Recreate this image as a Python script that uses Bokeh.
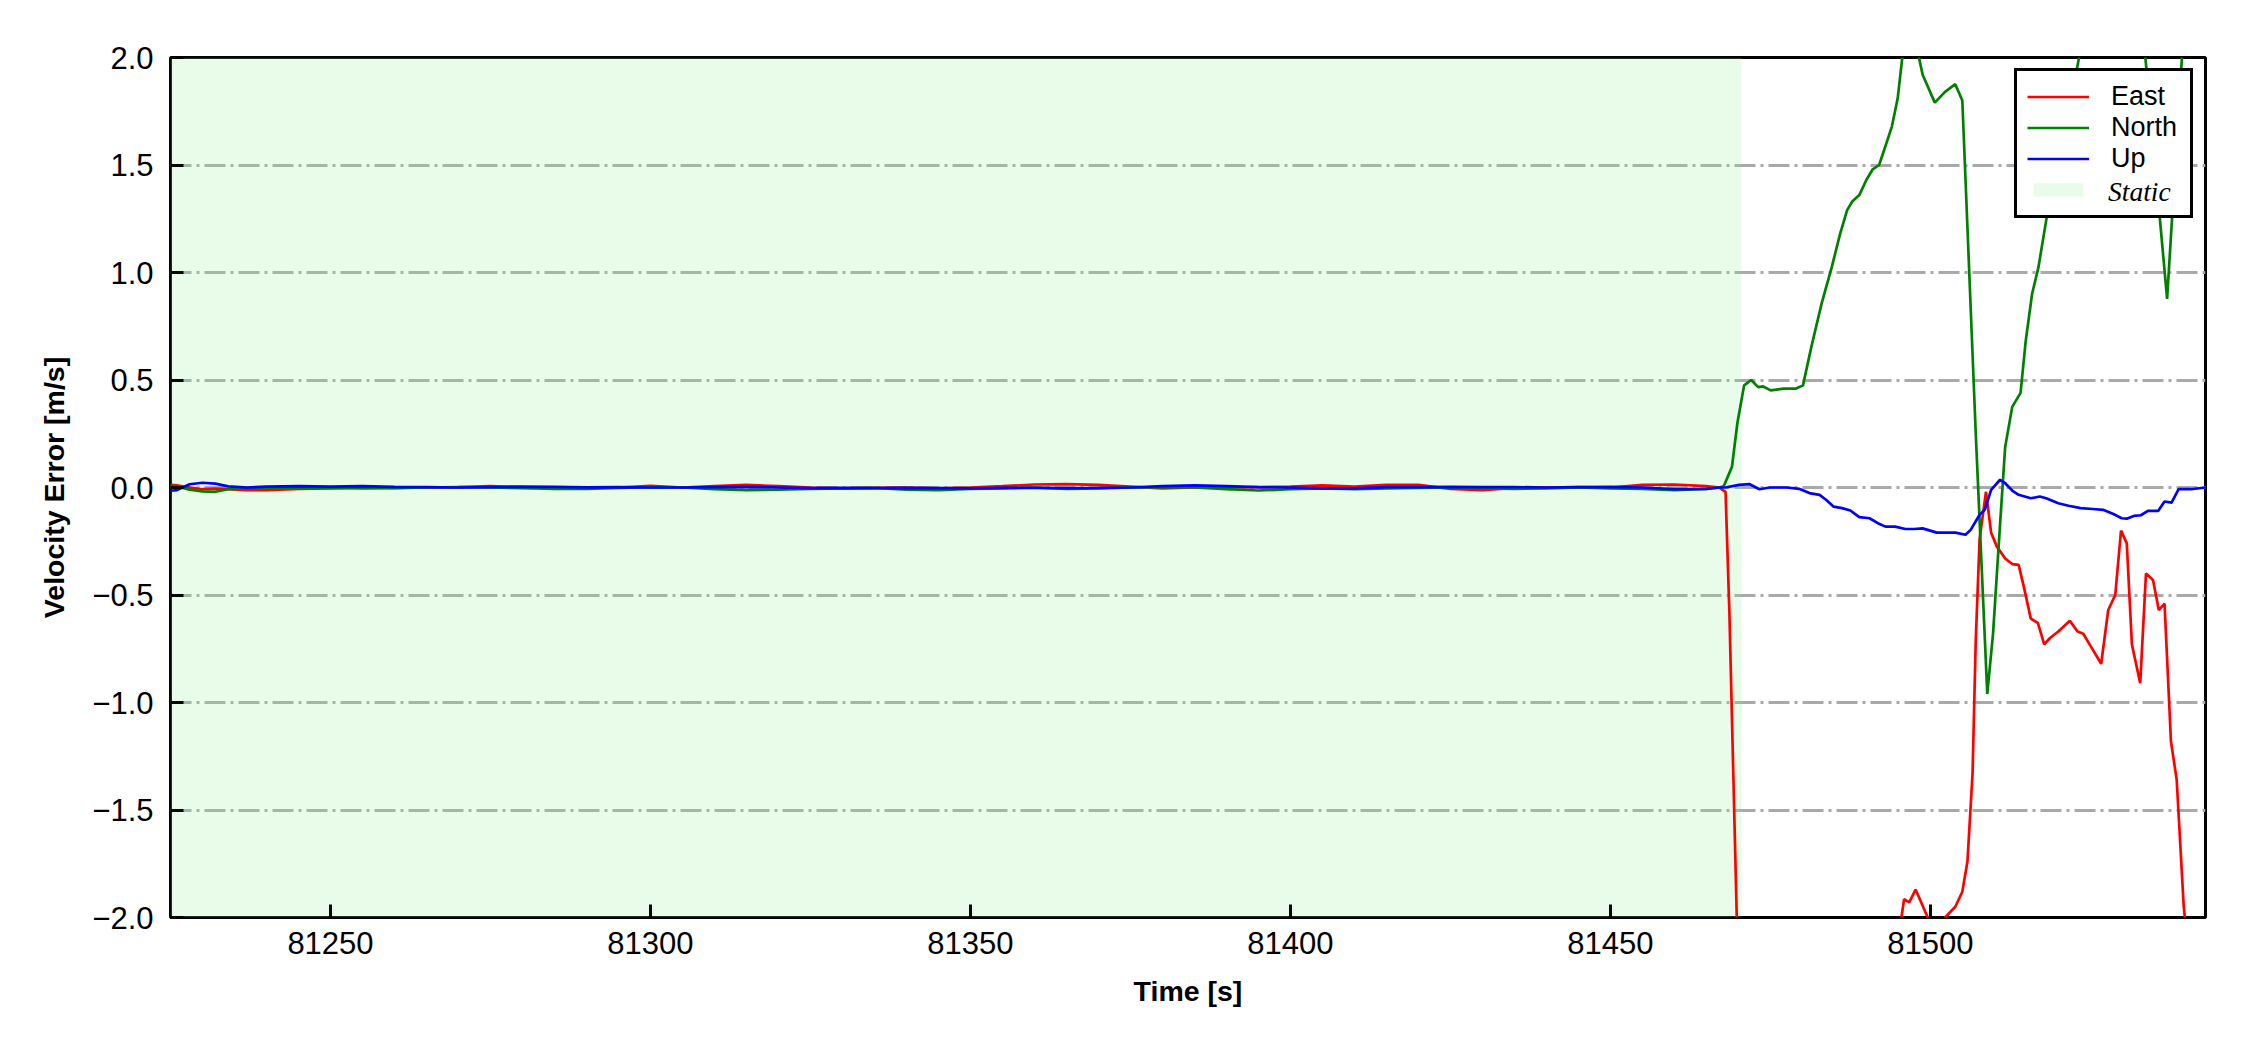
from bokeh.plotting import figure
from bokeh.models import Range1d, FixedTicker, Legend, LegendItem
from bokeh.embed import file_html
from bokeh.resources import INLINE

# ---------------- data ----------------
xlim = [81225, 81543]
ylim = [-2.0, 2.0]
static_span = [81225, 81470.5]
xtick_values = [81250, 81300, 81350, 81400, 81450, 81500]
xtick_labels = ["81250", "81300", "81350", "81400", "81450", "81500"]
ytick_values = [-2.0, -1.5, -1.0, -0.5, 0.0, 0.5, 1.0, 1.5, 2.0]
ytick_labels = ["\u22122.0", "\u22121.5", "\u22121.0", "\u22120.5", "0.0", "0.5", "1.0", "1.5", "2.0"]

t_static = [81225, 81226, 81228, 81230, 81232, 81234, 81237, 81240, 81245, 81250,
            81255, 81260, 81265, 81270, 81275, 81280, 81285, 81290, 81295, 81300,
            81305, 81310, 81315, 81320, 81325, 81330, 81335, 81340, 81345, 81350,
            81355, 81360, 81365, 81370, 81375, 81380, 81385, 81390, 81395, 81400,
            81405, 81410, 81415, 81420, 81425, 81430, 81435, 81440, 81445, 81450,
            81455, 81460, 81465]
east_static = [0.012, 0.010, 0.0, -0.008, -0.005, -0.008, -0.012, -0.012, -0.006, -0.004,
               0.0, -0.002, 0.0, 0.002, 0.006, 0.002, 0.0, -0.002, 0.0, 0.008,
               0.0, 0.006, 0.012, 0.006, 0.0, -0.004, -0.002, 0.0, -0.004, 0.0,
               0.006, 0.014, 0.016, 0.012, 0.004, -0.004, 0.0, 0.0, 0.002, 0.004,
               0.010, 0.004, 0.012, 0.012, -0.006, -0.012, -0.002, 0.0, 0.002, 0.0,
               0.012, 0.014, 0.006]
north_static = [0.008, 0.005, -0.010, -0.018, -0.020, -0.008, -0.004, -0.002, 0.0, -0.002,
                -0.004, -0.003, 0.0, 0.002, 0.0, -0.003, -0.006, -0.006, -0.002, 0.002,
                0.0, -0.008, -0.012, -0.010, -0.006, -0.004, -0.002, -0.010, -0.012, -0.006,
                -0.004, 0.0, -0.006, -0.004, 0.0, 0.002, 0.0, -0.008, -0.014, -0.008,
                -0.004, -0.008, -0.004, -0.002, 0.0, -0.004, -0.006, -0.004, 0.0, -0.004,
                -0.006, -0.012, -0.006]
up_static = [-0.015, -0.012, 0.015, 0.022, 0.018, 0.005, 0.0, 0.004, 0.006, 0.004,
             0.006, 0.003, 0.002, 0.0, 0.002, 0.004, 0.003, 0.001, 0.002, 0.0,
             0.0, 0.002, 0.003, 0.0, -0.003, -0.002, -0.003, -0.002, -0.003, -0.004,
             -0.002, -0.002, -0.003, -0.002, 0.0, 0.006, 0.010, 0.006, 0.002, 0.0,
             -0.004, -0.004, 0.002, 0.002, 0.003, 0.002, 0.002, 0.0, 0.002, 0.003,
             0.0, -0.008, -0.006]

east_dyn_t = [81467, 81468, 81468.6, 81470, 81475, 81480, 81485, 81490, 81494, 81495.9,
              81496.7, 81497.7, 81499.6, 81500.5, 81501.5, 81502.3, 81503.9, 81505.0, 81505.8, 81506.6,
              81507.1, 81507.7, 81508.7, 81509.5, 81510.4, 81511.7, 81512.8, 81513.8, 81514.6, 81515.7,
              81516.8, 81517.8, 81518.7, 81520.0, 81521.8, 81523.0, 81523.9, 81525.1, 81526.7, 81527.8,
              81528.9, 81529.8, 81530.7, 81531.5, 81532.8, 81533.7, 81534.8, 81535.7, 81536.6, 81537.6,
              81538.5, 81539.6, 81540.5, 81541.5, 81543]
east_dyn_v = [0.0, -0.02, -0.58, -2.3, -2.6, -2.8, -2.7, -2.5, -2.3, -1.915,
              -1.93, -1.87, -2.0, -2.1, -2.15, -2.0, -1.95, -1.88, -1.74, -1.33,
              -0.71, -0.24, -0.02, -0.21, -0.275, -0.33, -0.356, -0.36, -0.46, -0.61,
              -0.63, -0.73, -0.70, -0.67, -0.62, -0.67, -0.68, -0.74, -0.82, -0.57,
              -0.50, -0.20, -0.26, -0.73, -0.91, -0.40, -0.43, -0.57, -0.54, -1.18,
              -1.36, -1.95, -2.2, -2.4, -2.5]

north_dyn_t = [81467, 81467.7, 81469.0, 81469.85, 81470.9, 81472.0, 81473.1, 81473.9, 81475.05, 81477.1,
               81479.0, 81480.1, 81481.4, 81483.0, 81484.6, 81485.9, 81487.0, 81487.8, 81488.9, 81490.0,
               81491.0, 81492.0, 81492.9, 81494.0, 81494.9, 81496.0, 81497.0, 81497.5, 81498.8, 81500.7,
               81502.3, 81503.9, 81505.0, 81507.1, 81508.9, 81509.8, 81510.9, 81511.7, 81512.8, 81514.1,
               81514.9, 81515.9, 81516.9, 81518.2, 81522.8, 81524.0, 81527.0, 81530.0, 81533.0, 81537.0,
               81540.0, 81543]
north_dyn_v = [0.0, 0.005, 0.096, 0.30, 0.475, 0.50, 0.467, 0.47, 0.452, 0.46,
               0.46, 0.475, 0.653, 0.854, 1.025, 1.18, 1.29, 1.33, 1.36, 1.43,
               1.48, 1.50, 1.58, 1.68, 1.81, 2.10, 2.15, 2.10, 1.92, 1.79,
               1.84, 1.876, 1.80, 0.25, -0.96, -0.68, -0.17, 0.19, 0.375, 0.44,
               0.68, 0.90, 1.025, 1.26, 1.93, 2.12, 2.4, 2.5, 2.2, 0.877,
               2.33, 2.6]

up_dyn_t = [81467, 81468, 81470.1, 81471.7, 81473.3, 81474.9, 81477.6, 81479.5, 81481.1, 81482.7,
            81483.7, 81484.9, 81486.2, 81487.5, 81488.9, 81490.5, 81491.8, 81493.0, 81494.5, 81496.1,
            81497.5, 81498.8, 81501.0, 81503.9, 81505.5, 81506.3, 81507.7, 81508.5, 81509.5, 81510.9,
            81511.7, 81512.8, 81513.8, 81515.7, 81517.1, 81518.1, 81520.0, 81521.6, 81523.5, 81525.4,
            81527.0, 81528.6, 81529.9, 81530.7, 81531.8, 81532.9, 81534.0, 81535.6, 81536.6, 81537.7,
            81538.8, 81540.7, 81543]
up_dyn_v = [0.0, 0.0, 0.012, 0.016, -0.008, 0.0, 0.0, -0.006, -0.026, -0.034,
            -0.057, -0.089, -0.096, -0.107, -0.138, -0.143, -0.166, -0.182, -0.182, -0.193,
            -0.193, -0.19, -0.21, -0.21, -0.22, -0.197, -0.127, -0.104, -0.011, 0.036,
            0.02, -0.014, -0.034, -0.05, -0.042, -0.05, -0.073, -0.085, -0.096, -0.10,
            -0.104, -0.123, -0.143, -0.145, -0.132, -0.129, -0.109, -0.109, -0.065, -0.07,
            -0.008, -0.008, 0.0]

# ---------------- figure ----------------
FRAME_W, FRAME_H = 2035, 860
BORDER_L, BORDER_T = 170, 57
p = figure(frame_width=FRAME_W, frame_height=FRAME_H,
           x_range=Range1d(*xlim), y_range=Range1d(*ylim),
           output_backend="svg", toolbar_location=None,
           min_border_left=BORDER_L, min_border_right=37,
           min_border_top=BORDER_T, min_border_bottom=125,
           background_fill_color="white", border_fill_color="white")
p.outline_line_color = "black"
p.outline_line_width = 3
p.outline_line_alpha = 1

r_static = p.quad(left=[static_span[0]], right=[static_span[1]],
                  bottom=[ylim[0]], top=[ylim[1]],
                  fill_color="lightgreen", fill_alpha=0.2, line_color=None)

LW = 2.7
r_e = p.line(t_static + east_dyn_t, east_static + east_dyn_v, line_color="red", line_width=LW)
r_n = p.line(t_static + north_dyn_t, north_static + north_dyn_v, line_color="green", line_width=LW)
r_u = p.line(t_static + up_dyn_t, up_static + up_dyn_v, line_color="blue", line_width=LW)
# invisible stand-in glyph used only by the italic "Static" legend label
r_blank = p.line(static_span, [ylim[0], ylim[0]], line_alpha=0)

# axes
for ax in (p.xaxis[0], p.yaxis[0]):
    ax.axis_line_color = None
    ax.major_tick_in = 13
    ax.major_tick_out = 0
    ax.major_tick_line_width = 3
    ax.major_tick_line_color = "black"
    ax.minor_tick_line_color = None
    ax.major_label_text_font = "Liberation Sans"
    ax.major_label_text_font_size = "31px"
    ax.major_label_text_color = "black"
    ax.axis_label_text_font = "Liberation Sans"
    ax.axis_label_text_font_size = "28.5px"
    ax.axis_label_text_font_style = "bold"
    ax.axis_label_text_color = "black"

p.xaxis.ticker = FixedTicker(ticks=xtick_values)
p.xaxis.major_label_overrides = dict(zip(xtick_values, xtick_labels))
p.yaxis.ticker = FixedTicker(ticks=ytick_values)
p.yaxis.major_label_overrides = dict(zip(ytick_values, ytick_labels))
p.xaxis.axis_label = "Time [s]"
p.yaxis.axis_label = "Velocity Error [m/s]"
p.xaxis.major_label_standoff = 14
p.xaxis.axis_label_standoff = 18
p.yaxis.major_label_standoff = 17
p.yaxis.axis_label_standoff = 19

p.xgrid.visible = False
p.ygrid.ticker = FixedTicker(ticks=ytick_values)
p.ygrid.grid_line_color = "#a9a9a9"
p.ygrid.grid_line_width = 3
p.ygrid.grid_line_dash = "21 5 3 5"

# legends: both anchored by their bottom-left corner (frame pixels)
LEG_X, LEG_Y = 1844, 699


def style_legend(lg):
    lg.padding = 10
    lg.spacing = 0
    lg.glyph_width = 62
    lg.glyph_height = 17
    lg.label_height = 31
    lg.label_width = 69
    lg.label_standoff = 22
    lg.label_text_font_size = "27px"
    lg.label_text_color = "black"
    lg.margin = 0


legend = Legend(items=[
    LegendItem(label="East", renderers=[r_e]),
    LegendItem(label="North", renderers=[r_n]),
    LegendItem(label="Up", renderers=[r_u]),
    LegendItem(label=" ", renderers=[r_static]),
], location=(LEG_X, LEG_Y))
style_legend(legend)
legend.label_text_font = "Liberation Sans"
legend.border_line_color = "black"
legend.border_line_alpha = 1.0
legend.border_line_width = 3
legend.background_fill_color = "white"
legend.background_fill_alpha = 1.0
p.add_layout(legend)

legend_static = Legend(items=[LegendItem(label="Static", renderers=[r_blank])],
                       location=(LEG_X, LEG_Y))
style_legend(legend_static)
legend_static.label_text_font = "Liberation Serif"
legend_static.label_text_font_style = "italic"
legend_static.label_text_font_size = "27.5px"
legend_static.border_line_alpha = 0
legend_static.background_fill_alpha = 0
p.add_layout(legend_static)

open("out.html", "w").write(file_html(p, INLINE))
